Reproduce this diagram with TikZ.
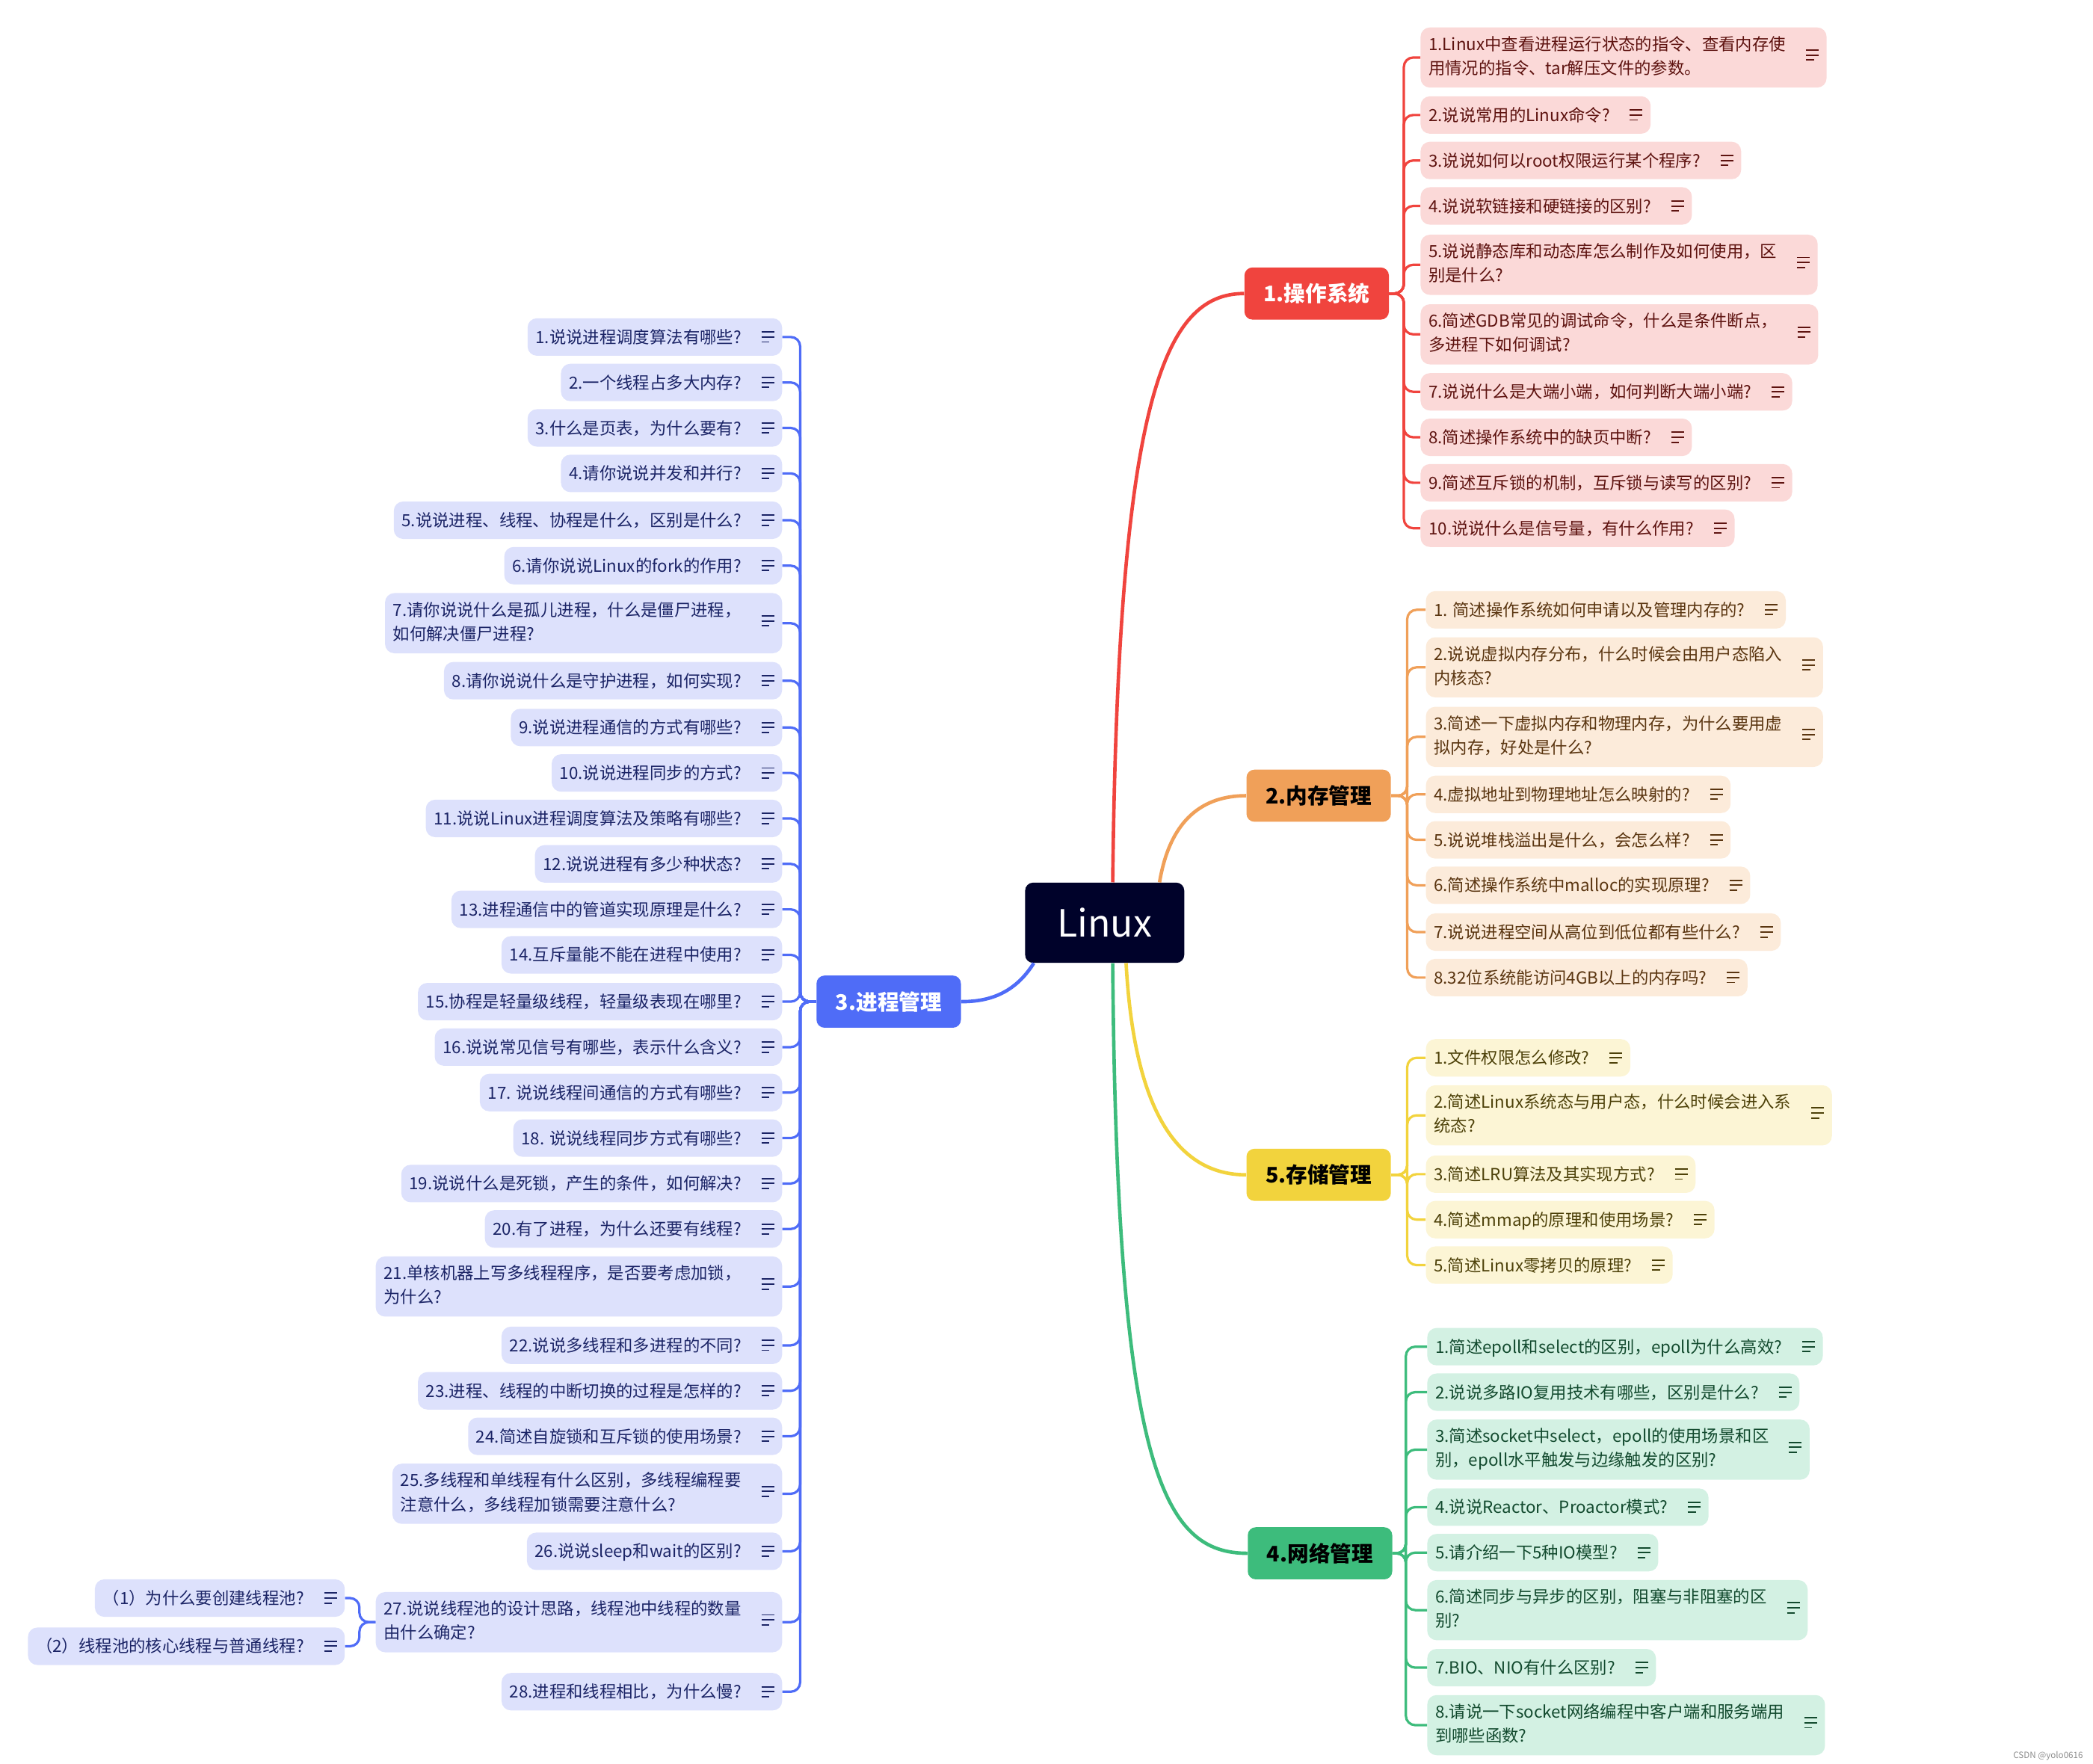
\documentclass[tikz,border=0pt]{standalone}
\usepackage{fontspec}
\setmainfont{Noto Sans CJK SC}
\usetikzlibrary{calc}

\definecolor{rootfill}{HTML}{00022A}
\definecolor{osred}{HTML}{F0443E}
\definecolor{osfill}{HTML}{FBD9D8}
\definecolor{ostext}{HTML}{5E1310}
\definecolor{memorange}{HTML}{F0A059}
\definecolor{memfill}{HTML}{FCEBDA}
\definecolor{memtext}{HTML}{5A3510}
\definecolor{fsyellow}{HTML}{F2D33D}
\definecolor{fsfill}{HTML}{FCF5D5}
\definecolor{fstext}{HTML}{4D4109}
\definecolor{netgreen}{HTML}{3DBC7C}
\definecolor{netfill}{HTML}{D3F1E3}
\definecolor{nettext}{HTML}{124A2E}
\definecolor{procblue}{HTML}{4F6CF7}
\definecolor{procfill}{HTML}{DDE1FC}
\definecolor{proctext}{HTML}{1B2466}

\def\notemark{\hspace{15pt}\raisebox{0.5pt}{\vbox{\hrule width 9.5pt height 1.1pt\vskip 2.6pt\hrule width 9.5pt height 1.1pt\vskip 2.6pt\hrule width 6pt height 1.1pt}}\rule[-3.5pt]{0pt}{16.5pt}}
\def\twolines#1#2{\begin{tabular}{@{}l@{}}#1\\#2\end{tabular}}

\tikzset{
	root/.style={fill=rootfill, text=white, rounded corners=6pt, minimum width=119pt, minimum height=60pt, font=\fontsize{28}{30}\selectfont},
	topic/.style={rounded corners=6pt, minimum width=108pt, minimum height=39pt, font=\fontsize{16}{18}\selectfont\bfseries},
	leaf/.style={rounded corners=7pt, inner xsep=6pt, inner ysep=4.5pt, minimum height=28pt, font=\fontsize{12.5}{18}\selectfont},
	osleaf/.style={leaf, fill=osfill, text=ostext, anchor=west},
	memleaf/.style={leaf, fill=memfill, text=memtext, anchor=west},
	fsleaf/.style={leaf, fill=fsfill, text=fstext, anchor=west},
	netleaf/.style={leaf, fill=netfill, text=nettext, anchor=west},
	procleaf/.style={leaf, fill=procfill, text=proctext, anchor=east},
	mainlink/.style={line width=2.6pt},
	link/.style={line width=1.8pt, rounded corners=7pt},
}

\begin{document}
\begin{tikzpicture}[x=1pt, y=-1pt]
			%%%%% START %%%%%
			\useasboundingbox (0, 0) rectangle (1565, 1319);
			
			\node[root] (linux) at (826, 690) {Linux};
			
			\node[topic, fill=osred, text=white] (os) at (984.5, 219.5) {1.操作系统};
			\node[topic, fill=memorange, text=black] (mem) at (986, 595) {2.内存管理};
			\node[topic, fill=fsyellow, text=black] (fs) at (986, 878.5) {5.存储管理};
			\node[topic, fill=netgreen, text=black] (net) at (987, 1161.5) {4.网络管理};
			\node[topic, fill=procblue, text=white] (proc) at (664.5, 749) {3.进程管理};
			
			\draw[mainlink, osred] ([xshift=6pt]linux.north) .. controls (836, 300) and (870, 219.5) .. (os.west);
			\draw[mainlink, memorange] ([xshift=41pt]linux.north) .. controls (875, 612) and (900, 595) .. (mem.west);
			\draw[mainlink, fsyellow] ([xshift=16pt]linux.south) .. controls (848, 830) and (880, 878.5) .. (fs.west);
			\draw[mainlink, netgreen] ([xshift=6pt]linux.south) .. controls (835, 1100) and (870, 1161.5) .. (net.west);
			\draw[mainlink, procblue] ([xshift=-53pt]linux.south) .. controls (758, 744) and (738, 749) .. (proc.east);
			
			% operating system
			\node[osleaf] (o1) at (1062, 43) {\twolines{1.Linux中查看进程运行状态的指令、查看内存使}{用情况的指令、tar解压文件的参数。}\notemark};
			\node[osleaf] (o2) at (1062, 86) {2.说说常用的Linux命令?\notemark};
			\node[osleaf] (o3) at (1062, 120) {3.说说如何以root权限运行某个程序?\notemark};
			\node[osleaf] (o4) at (1062, 154) {4.说说软链接和硬链接的区别?\notemark};
			\node[osleaf] (o5) at (1062, 198) {\twolines{5.说说静态库和动态库怎么制作及如何使用，区}{别是什么?}\notemark};
			\node[osleaf] (o6) at (1062, 250) {\twolines{6.简述GDB常见的调试命令，什么是条件断点，}{多进程下如何调试?}\notemark};
			\node[osleaf] (o7) at (1062, 293) {7.说说什么是大端小端，如何判断大端小端?\notemark};
			\node[osleaf] (o8) at (1062, 327) {8.简述操作系统中的缺页中断?\notemark};
			\node[osleaf] (o9) at (1062, 361) {9.简述互斥锁的机制，互斥锁与读写的区别?\notemark};
			\node[osleaf] (o10) at (1062, 395) {10.说说什么是信号量，有什么作用?\notemark};
			
			\draw[link, osred] (os.east) -- ++(11, 0) |- (o1.west);
			\draw[link, osred] (os.east) -- ++(11, 0) |- (o2.west);
			\draw[link, osred] (os.east) -- ++(11, 0) |- (o3.west);
			\draw[link, osred] (os.east) -- ++(11, 0) |- (o4.west);
			\draw[link, osred] (os.east) -- ++(11, 0) |- (o5.west);
			\draw[link, osred] (os.east) -- ++(11, 0) |- (o6.west);
			\draw[link, osred] (os.east) -- ++(11, 0) |- (o7.west);
			\draw[link, osred] (os.east) -- ++(11, 0) |- (o8.west);
			\draw[link, osred] (os.east) -- ++(11, 0) |- (o9.west);
			\draw[link, osred] (os.east) -- ++(11, 0) |- (o10.west);
			
			% memory
			\node[memleaf] (m1) at (1066, 456) {1. 简述操作系统如何申请以及管理内存的?\notemark};
			\node[memleaf] (m2) at (1066, 499) {\twolines{2.说说虚拟内存分布，什么时候会由用户态陷入}{内核态?}\notemark};
			\node[memleaf] (m3) at (1066, 551) {\twolines{3.简述一下虚拟内存和物理内存，为什么要用虚}{拟内存，好处是什么?}\notemark};
			\node[memleaf] (m4) at (1066, 594) {4.虚拟地址到物理地址怎么映射的?\notemark};
			\node[memleaf] (m5) at (1066, 628) {5.说说堆栈溢出是什么，会怎么样?\notemark};
			\node[memleaf] (m6) at (1066, 662) {6.简述操作系统中malloc的实现原理?\notemark};
			\node[memleaf] (m7) at (1066, 697) {7.说说进程空间从高位到低位都有些什么?\notemark};
			\node[memleaf] (m8) at (1066, 731) {8.32位系统能访问4GB以上的内存吗?\notemark};
			
			\draw[link, memorange] (mem.east) -- ++(12, 0) |- (m1.west);
			\draw[link, memorange] (mem.east) -- ++(12, 0) |- (m2.west);
			\draw[link, memorange] (mem.east) -- ++(12, 0) |- (m3.west);
			\draw[link, memorange] (mem.east) -- ++(12, 0) |- (m4.west);
			\draw[link, memorange] (mem.east) -- ++(12, 0) |- (m5.west);
			\draw[link, memorange] (mem.east) -- ++(12, 0) |- (m6.west);
			\draw[link, memorange] (mem.east) -- ++(12, 0) |- (m7.west);
			\draw[link, memorange] (mem.east) -- ++(12, 0) |- (m8.west);
			
			% storage
			\node[fsleaf] (f1) at (1066, 791) {1.文件权限怎么修改?\notemark};
			\node[fsleaf] (f2) at (1066, 834) {\twolines{2.简述Linux系统态与用户态，什么时候会进入系}{统态?}\notemark};
			\node[fsleaf] (f3) at (1066, 878) {3.简述LRU算法及其实现方式?\notemark};
			\node[fsleaf] (f4) at (1066, 912) {4.简述mmap的原理和使用场景?\notemark};
			\node[fsleaf] (f5) at (1066, 946) {5.简述Linux零拷贝的原理?\notemark};
			
			\draw[link, fsyellow] (fs.east) -- ++(12, 0) |- (f1.west);
			\draw[link, fsyellow] (fs.east) -- ++(12, 0) |- (f2.west);
			\draw[link, fsyellow] (fs.east) -- ++(12, 0) |- (f3.west);
			\draw[link, fsyellow] (fs.east) -- ++(12, 0) |- (f4.west);
			\draw[link, fsyellow] (fs.east) -- ++(12, 0) |- (f5.west);
			
			% network
			\node[netleaf] (n1) at (1067, 1007) {1.简述epoll和select的区别，epoll为什么高效?\notemark};
			\node[netleaf] (n2) at (1067, 1041) {2.说说多路IO复用技术有哪些，区别是什么?\notemark};
			\node[netleaf] (n3) at (1067, 1084) {\twolines{3.简述socket中select，epoll的使用场景和区}{别，epoll水平触发与边缘触发的区别?}\notemark};
			\node[netleaf] (n4) at (1067, 1127) {4.说说Reactor、Proactor模式?\notemark};
			\node[netleaf] (n5) at (1067, 1161) {5.请介绍一下5种IO模型?\notemark};
			\node[netleaf] (n6) at (1067, 1204) {\twolines{6.简述同步与异步的区别，阻塞与非阻塞的区}{别?}\notemark};
			\node[netleaf] (n7) at (1067, 1247) {7.BIO、NIO有什么区别?\notemark};
			\node[netleaf] (n8) at (1067, 1290) {\twolines{8.请说一下socket网络编程中客户端和服务端用}{到哪些函数?}\notemark};
			
			\draw[link, netgreen] (net.east) -- ++(10, 0) |- (n1.west);
			\draw[link, netgreen] (net.east) -- ++(10, 0) |- (n2.west);
			\draw[link, netgreen] (net.east) -- ++(10, 0) |- (n3.west);
			\draw[link, netgreen] (net.east) -- ++(10, 0) |- (n4.west);
			\draw[link, netgreen] (net.east) -- ++(10, 0) |- (n5.west);
			\draw[link, netgreen] (net.east) -- ++(10, 0) |- (n6.west);
			\draw[link, netgreen] (net.east) -- ++(10, 0) |- (n7.west);
			\draw[link, netgreen] (net.east) -- ++(10, 0) |- (n8.west);
			
			% process
			\node[procleaf] (p1) at (585, 252) {1.说说进程调度算法有哪些?\notemark};
			\node[procleaf] (p2) at (585, 286) {2.一个线程占多大内存?\notemark};
			\node[procleaf] (p3) at (585, 320) {3.什么是页表，为什么要有?\notemark};
			\node[procleaf] (p4) at (585, 354) {4.请你说说并发和并行?\notemark};
			\node[procleaf] (p5) at (585, 389) {5.说说进程、线程、协程是什么，区别是什么?\notemark};
			\node[procleaf] (p6) at (585, 423) {6.请你说说Linux的fork的作用?\notemark};
			\node[procleaf] (p7) at (585, 466) {\twolines{7.请你说说什么是孤儿进程，什么是僵尸进程，}{如何解决僵尸进程?}\notemark};
			\node[procleaf] (p8) at (585, 509) {8.请你说说什么是守护进程，如何实现?\notemark};
			\node[procleaf] (p9) at (585, 544) {9.说说进程通信的方式有哪些?\notemark};
			\node[procleaf] (p10) at (585, 578) {10.说说进程同步的方式?\notemark};
			\node[procleaf] (p11) at (585, 612) {11.说说Linux进程调度算法及策略有哪些?\notemark};
			\node[procleaf] (p12) at (585, 646) {12.说说进程有多少种状态?\notemark};
			\node[procleaf] (p13) at (585, 680) {13.进程通信中的管道实现原理是什么?\notemark};
			\node[procleaf] (p14) at (585, 714) {14.互斥量能不能在进程中使用?\notemark};
			\node[procleaf] (p15) at (585, 749) {15.协程是轻量级线程，轻量级表现在哪里?\notemark};
			\node[procleaf] (p16) at (585, 783) {16.说说常见信号有哪些，表示什么含义?\notemark};
			\node[procleaf] (p17) at (585, 817) {17. 说说线程间通信的方式有哪些?\notemark};
			\node[procleaf] (p18) at (585, 851) {18. 说说线程同步方式有哪些?\notemark};
			\node[procleaf] (p19) at (585, 885) {19.说说什么是死锁，产生的条件，如何解决?\notemark};
			\node[procleaf] (p20) at (585, 919) {20.有了进程，为什么还要有线程?\notemark};
			\node[procleaf] (p21) at (585, 962) {\twolines{21.单核机器上写多线程程序，是否要考虑加锁，}{为什么?}\notemark};
			\node[procleaf] (p22) at (585, 1006) {22.说说多线程和多进程的不同?\notemark};
			\node[procleaf] (p23) at (585, 1040) {23.进程、线程的中断切换的过程是怎样的?\notemark};
			\node[procleaf] (p24) at (585, 1074) {24.简述自旋锁和互斥锁的使用场景?\notemark};
			\node[procleaf] (p25) at (585, 1117) {\twolines{25.多线程和单线程有什么区别，多线程编程要}{注意什么，多线程加锁需要注意什么?}\notemark};
			\node[procleaf] (p26) at (585, 1160) {26.说说sleep和wait的区别?\notemark};
			\node[procleaf] (p27) at (585, 1213) {\twolines{27.说说线程池的设计思路，线程池中线程的数量}{由什么确定?}\notemark};
			\node[procleaf] (p28) at (585, 1265) {28.进程和线程相比，为什么慢?\notemark};
			
			\node[procleaf] (s1) at (258, 1195) {（1）为什么要创建线程池?\notemark};
			\node[procleaf] (s2) at (258, 1231) {（2）线程池的核心线程与普通线程?\notemark};
			
			\draw[link, procblue] (proc.west) -- ++(-12, 0) |- (p1.east);
			\draw[link, procblue] (proc.west) -- ++(-12, 0) |- (p2.east);
			\draw[link, procblue] (proc.west) -- ++(-12, 0) |- (p3.east);
			\draw[link, procblue] (proc.west) -- ++(-12, 0) |- (p4.east);
			\draw[link, procblue] (proc.west) -- ++(-12, 0) |- (p5.east);
			\draw[link, procblue] (proc.west) -- ++(-12, 0) |- (p6.east);
			\draw[link, procblue] (proc.west) -- ++(-12, 0) |- (p7.east);
			\draw[link, procblue] (proc.west) -- ++(-12, 0) |- (p8.east);
			\draw[link, procblue] (proc.west) -- ++(-12, 0) |- (p9.east);
			\draw[link, procblue] (proc.west) -- ++(-12, 0) |- (p10.east);
			\draw[link, procblue] (proc.west) -- ++(-12, 0) |- (p11.east);
			\draw[link, procblue] (proc.west) -- ++(-12, 0) |- (p12.east);
			\draw[link, procblue] (proc.west) -- ++(-12, 0) |- (p13.east);
			\draw[link, procblue] (proc.west) -- ++(-12, 0) |- (p14.east);
			\draw[link, procblue] (proc.west) -- ++(-12, 0) |- (p15.east);
			\draw[link, procblue] (proc.west) -- ++(-12, 0) |- (p16.east);
			\draw[link, procblue] (proc.west) -- ++(-12, 0) |- (p17.east);
			\draw[link, procblue] (proc.west) -- ++(-12, 0) |- (p18.east);
			\draw[link, procblue] (proc.west) -- ++(-12, 0) |- (p19.east);
			\draw[link, procblue] (proc.west) -- ++(-12, 0) |- (p20.east);
			\draw[link, procblue] (proc.west) -- ++(-12, 0) |- (p21.east);
			\draw[link, procblue] (proc.west) -- ++(-12, 0) |- (p22.east);
			\draw[link, procblue] (proc.west) -- ++(-12, 0) |- (p23.east);
			\draw[link, procblue] (proc.west) -- ++(-12, 0) |- (p24.east);
			\draw[link, procblue] (proc.west) -- ++(-12, 0) |- (p25.east);
			\draw[link, procblue] (proc.west) -- ++(-12, 0) |- (p26.east);
			\draw[link, procblue] (proc.west) -- ++(-12, 0) |- (p27.east);
			\draw[link, procblue] (proc.west) -- ++(-12, 0) |- (p28.east);
			
			\draw[link, procblue] (p27.west) -- ++(-12, 0) |- (s1.east);
			\draw[link, procblue] (p27.west) -- ++(-12, 0) |- (s2.east);
			
			\node[anchor=east, text=black!45, font=\fontsize{6.5}{7}\selectfont] (mark) at (1561, 1313) {CSDN @yolo0616};
			%%%%% END %%%%%
\end{tikzpicture}
\end{document}
